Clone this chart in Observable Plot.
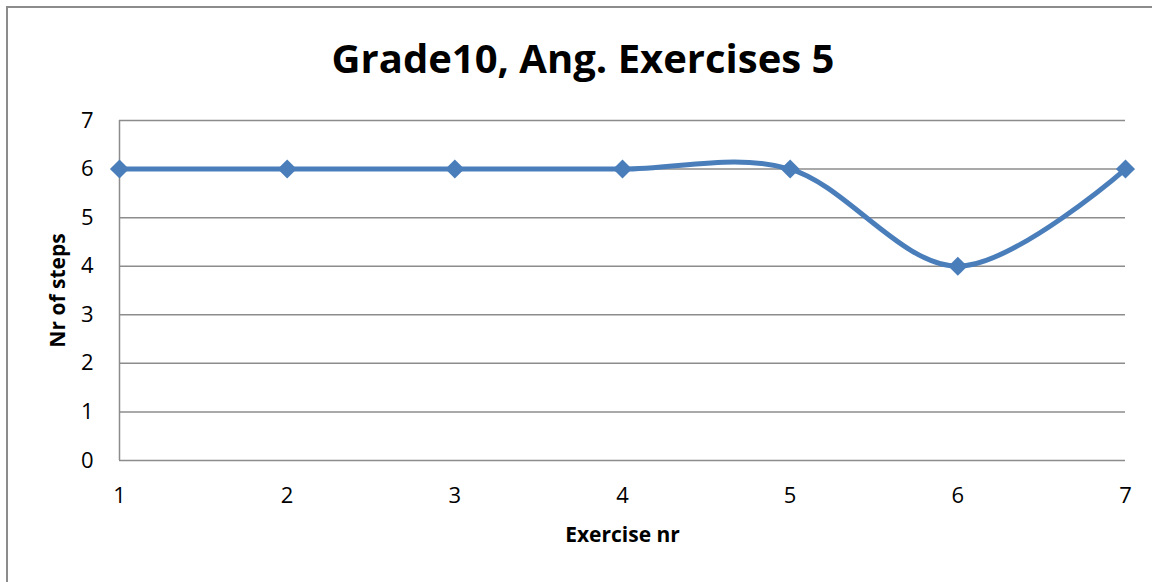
<!DOCTYPE html>
<html>
<head>
<meta charset="utf-8">
<script src="https://cdn.jsdelivr.net/npm/d3@7"></script>
<script src="https://cdn.jsdelivr.net/npm/@observablehq/plot@0.6"></script>
<style>
  html, body { margin: 0; padding: 0; background: #fff; }
  #wrap { position: relative; width: 1152px; height: 582px; overflow: hidden; font-family: "Open Sans", sans-serif; }
  #frame { position: absolute; left: 6px; top: 6px; width: 1200px; height: 700px; border: 2px solid #8c8c8c; box-sizing: border-box; }
  #title { position: absolute; left: 0; top: 0; width: 1166px; height: 100px; text-align: center; font-weight: bold; font-size: 40px; line-height: 1; padding-top: 38px; box-sizing: border-box; color: #000; }
  #chart { position: absolute; left: 0; top: 100px; }
</style>
</head>
<body>
<div id="wrap">
  <div id="frame"></div>
  <div id="title">Grade10, Ang. Exercises 5</div>
  <div id="chart"></div>
</div>
<script>
const exercises = [1, 2, 3, 4, 5, 6, 7];
const steps = [6, 6, 6, 6, 6, 4, 6];
const yTicks = [0, 1, 2, 3, 4, 5, 6, 7];
const xTicks = [1, 2, 3, 4, 5, 6, 7];
const xLabel = "Exercise nr";
const yLabel = "Nr of steps";

const data = exercises.map((x, i) => ({x, y: steps[i]}));
const blue = "#4a7ebb";
const gray = "#8c8c8c";

const plot = Plot.plot({
  width: 1152,
  height: 482,
  marginTop: 20,
  marginBottom: 122,
  marginLeft: 119,
  marginRight: 27,
  style: {fontFamily: "Open Sans, sans-serif", fontSize: "22px", color: "#000", background: "transparent"},
  x: {domain: [1, 7]},
  y: {domain: [0, 7]},
  marks: [
    Plot.gridY(yTicks, {stroke: gray, strokeOpacity: 1, strokeWidth: 1.5}),
    Plot.ruleX([1], {stroke: gray, strokeWidth: 1.5}),
    Plot.axisX(xTicks, {tickSize: 0, tickPadding: 27, label: null, fontSize: 22, tickFormat: d => String(d)}),
    Plot.axisY(yTicks, {tickSize: 0, tickPadding: 26, label: null, fontSize: 22, tickFormat: d => String(d)}),
    Plot.line(data, {x: "x", y: "y", curve: "cardinal", stroke: blue, strokeWidth: 5}),
    Plot.dot(data, {x: "x", y: "y", symbol: "diamond2", r: 8.6, fill: blue, stroke: null}),
    Plot.text([xLabel], {text: d => d, frameAnchor: "bottom", dy: 81, textAnchor: "middle", fontWeight: "bold", fontSize: 21}),
    Plot.text([yLabel], {text: d => d, frameAnchor: "left", dx: -61, textAnchor: "middle", rotate: -90, fontWeight: "bold", fontSize: 21})
  ]
});
document.getElementById("chart").appendChild(plot);
</script>
</body>
</html>
